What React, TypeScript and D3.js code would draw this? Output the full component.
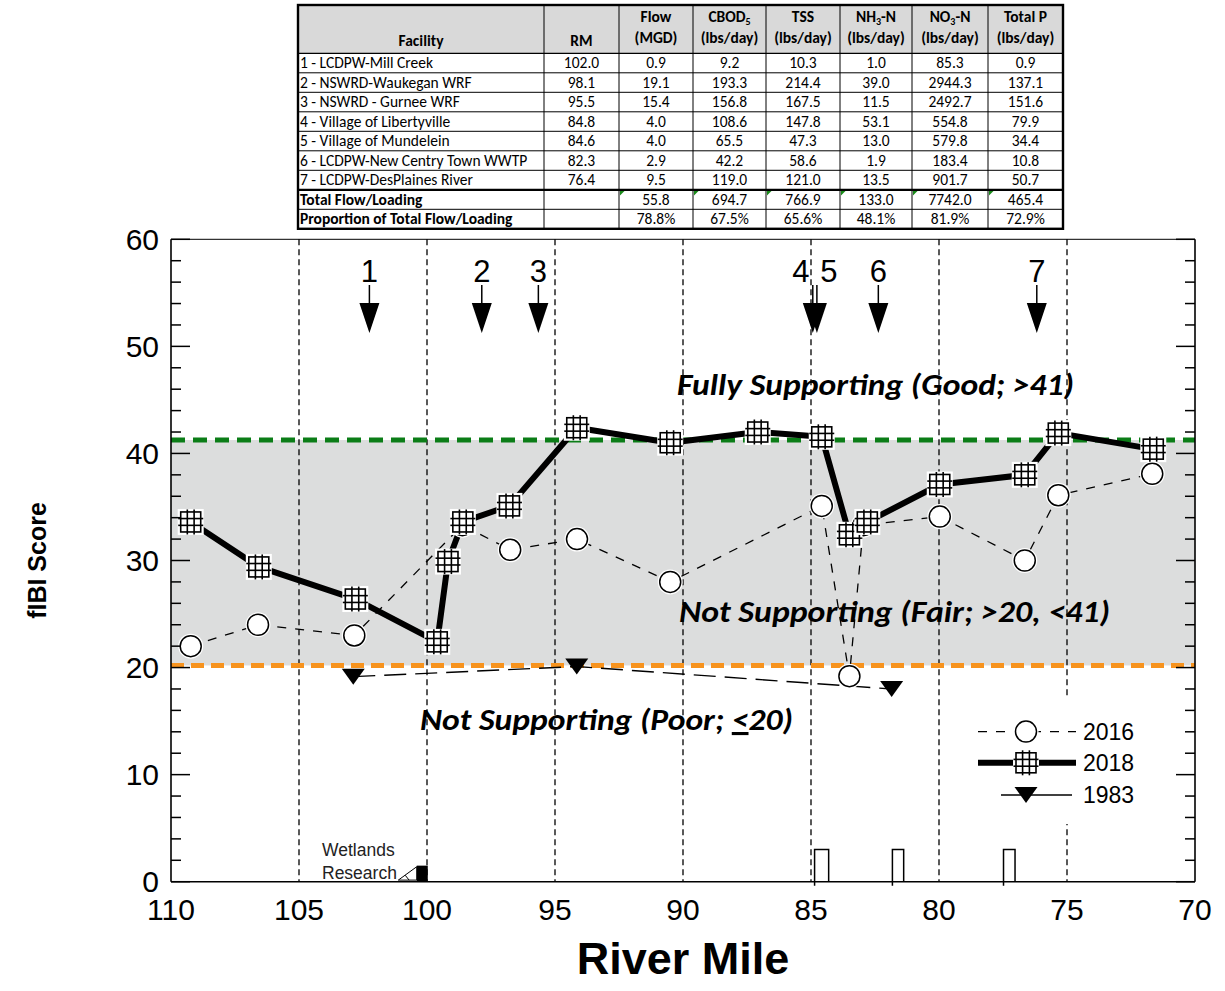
import React from 'react';
import * as d3 from 'd3';

// ---------- data ----------
const xTicks = [110, 105, 100, 95, 90, 85, 80, 75, 70];
const yMajorTicks = [0, 10, 20, 30, 40, 50, 60];
const yMinorTicks = [2, 4, 6, 8, 12, 14, 16, 18, 22, 24, 26, 28, 32, 34, 36, 38, 42, 44, 46, 48, 52, 54, 56, 58];
const dividerMiles = [105, 100, 95, 90, 85, 80, 75];

const rm2018 = [109.23, 106.57, 102.8, 99.6, 99.18, 98.6, 96.78, 94.15, 90.5, 87.08, 84.58, 83.5, 82.8, 79.97, 76.65, 75.34, 71.63];
const score2018 = [33.6, 29.4, 26.4, 22.4, 29.9, 33.6, 35.1, 42.4, 41.0, 42.0, 41.55, 32.4, 33.6, 37.1, 38.0, 41.9, 40.4];

const rm2016 = [109.23, 106.6, 102.84, 98.62, 96.75, 94.14, 90.5, 84.58, 83.5, 82.95, 79.97, 76.65, 75.34, 71.67];
const score2016 = [22.0, 24.0, 23.0, 33.3, 31.0, 32.0, 28.0, 35.1, 19.2, 33.3, 34.1, 30.0, 36.1, 38.1];

const rm1983 = [102.88, 94.15, 81.85];
const score1983 = [19.15, 20.1, 18.0];

const outfallLabels = ['1', '2', '3', '4', '5', '6', '7'];
const outfallRM = [102.25, 97.86, 95.65, 84.93, 84.77, 82.37, 76.18];
const outfallLabelDx = [0, 0, 0, -12, 12, 0, 0];

const fairLower = 20.2;
const goodUpper = 41.25;

const bottomBarStart = [84.86, 81.82, 77.48];
const bottomBarEnd = [84.31, 81.38, 77.03];
const bottomBarHeight = [3.0, 3.0, 3.0];

const wetlandBar = [100.4, 99.97, 1.5];

// table
const facilities = [
  '1 - LCDPW-Mill Creek',
  '2 - NSWRD-Waukegan WRF',
  '3 - NSWRD - Gurnee WRF',
  '4 - Village of Libertyville',
  '5 - Village of Mundelein',
  '6 - LCDPW-New Centry Town WWTP',
  '7 - LCDPW-DesPlaines River',
];
const rmCol = ['102.0', '98.1', '95.5', '84.8', '84.6', '82.3', '76.4'];
const flowCol = ['0.9', '19.1', '15.4', '4.0', '4.0', '2.9', '9.5'];
const cbodCol = ['9.2', '193.3', '156.8', '108.6', '65.5', '42.2', '119.0'];
const tssCol = ['10.3', '214.4', '167.5', '147.8', '47.3', '58.6', '121.0'];
const nh3Col = ['1.0', '39.0', '11.5', '53.1', '13.0', '1.9', '13.5'];
const no3Col = ['85.3', '2944.3', '2492.7', '554.8', '579.8', '183.4', '901.7'];
const tpCol = ['0.9', '137.1', '151.6', '79.9', '34.4', '10.8', '50.7'];
const totalsRow = ['55.8', '694.7', '766.9', '133.0', '7742.0', '465.4'];
const proportionRow = ['78.8%', '67.5%', '65.6%', '48.1%', '81.9%', '72.9%'];

// ---------- layout ----------
const W = 1225;
const H = 991;
const PL = 171, PR = 1195, PT = 239.3, PB = 881.7;
const ARIAL = '"Liberation Sans", Arial, sans-serif';
const CALIBRI = 'Carlito, Lato, "Open Sans", sans-serif';

const x = d3.scaleLinear().domain([110, 70]).range([PL, PR]);
const y = d3.scaleLinear().domain([0, 60]).range([PB, PT]);

const Square = ({ cx, cy }: { cx: number; cy: number }) => (
  <g transform={`translate(${cx},${cy})`}>
    <rect x={-13} y={-13} width={26} height={26} fill="#fff" />
    <rect x={-10} y={-10} width={20} height={20} fill="#fff" stroke="#000" strokeWidth={1.6} />
    <line x1={-3.4} x2={-3.4} y1={-12.5} y2={12.5} stroke="#000" strokeWidth={1.6} />
    <line x1={3.4} x2={3.4} y1={-12.5} y2={12.5} stroke="#000" strokeWidth={1.6} />
    <line y1={-3.4} y2={-3.4} x1={-12.5} x2={12.5} stroke="#000" strokeWidth={1.6} />
    <line y1={3.4} y2={3.4} x1={-12.5} x2={12.5} stroke="#000" strokeWidth={1.6} />
  </g>
);

const Circle = ({ cx, cy }: { cx: number; cy: number }) => (
  <g>
    <circle cx={cx} cy={cy} r={12.5} fill="#fff" />
    <circle cx={cx} cy={cy} r={10.5} fill="#fff" stroke="#000" strokeWidth={1.5} />
  </g>
);

const Tri = ({ cx, cy }: { cx: number; cy: number }) => (
  <path d={`M${cx - 11.5},${cy - 8}L${cx + 11.5},${cy - 8}L${cx},${cy + 8}Z`} fill="#000" />
);

function Table() {
  const colX = [298, 544, 619, 693, 766, 840, 912, 988, 1063];
  const top = 5;
  const headBottom = 53.3;
  const rowH = 19.5;
  const nRows = 9;
  const bottom = headBottom + rowH * nRows;
  const cols = [flowCol, cbodCol, tssCol, nh3Col, no3Col, tpCol];
  const mid = (i: number) => (colX[i] + colX[i + 1]) / 2;
  const fs = 15.5;
  const rows: React.ReactNode[] = [];
  for (let r = 0; r < 7; r++) {
    const by = headBottom + rowH * r + 15;
    rows.push(
      <text key={`f${r}`} x={colX[0] + 2} y={by} fontSize={fs}>{facilities[r]}</text>,
      <text key={`r${r}`} x={mid(1)} y={by} fontSize={fs} textAnchor="middle">{rmCol[r]}</text>,
    );
    cols.forEach((c, j) => {
      rows.push(
        <text key={`c${r}-${j}`} x={mid(j + 2)} y={by} fontSize={fs} textAnchor="middle">{c[r]}</text>,
      );
    });
  }
  const totY = headBottom + rowH * 7 + 15;
  const propY = headBottom + rowH * 8 + 15;
  const headers: [string, string | null, string][] = [
    ['Flow', null, '(MGD)'],
    ['CBOD', '5', '(lbs/day)'],
    ['TSS', null, '(lbs/day)'],
    ['NH', '3', '(lbs/day)'],
    ['NO', '3', '(lbs/day)'],
    ['Total P', null, '(lbs/day)'],
  ];
  const hLines: React.ReactNode[] = [];
  for (let r = 1; r < nRows; r++) {
    const yy = headBottom + rowH * r;
    hLines.push(
      <line key={`h${r}`} x1={colX[0]} x2={colX[8]} y1={yy} y2={yy} stroke="#000" strokeWidth={r === 7 ? 2.2 : 1} />,
    );
  }
  return (
    <g fontFamily={CALIBRI} fill="#000">
      <rect x={colX[0]} y={top} width={colX[8] - colX[0]} height={headBottom - top} fill="#d9d9d9" />
      <rect x={colX[0]} y={headBottom} width={colX[8] - colX[0]} height={bottom - headBottom} fill="#fff" />
      {hLines}
      <line x1={colX[0]} x2={colX[8]} y1={headBottom} y2={headBottom} stroke="#000" strokeWidth={1.2} />
      {colX.slice(1, 8).map((cx, i) => (
        <line key={`v${i}`} x1={cx} x2={cx} y1={top} y2={bottom} stroke="#000" strokeWidth={1} />
      ))}
      <rect x={colX[0]} y={top} width={colX[8] - colX[0]} height={bottom - top} fill="none" stroke="#000" strokeWidth={2.4} />
      <text x={mid(0)} y={46} fontSize={fs} fontWeight="bold" textAnchor="middle">Facility</text>
      <text x={mid(1)} y={46} fontSize={fs} fontWeight="bold" textAnchor="middle">RM</text>
      {headers.map((h, i) => (
        <g key={`hd${i}`}>
          <text x={mid(i + 2)} y={22} fontSize={fs} fontWeight="bold" textAnchor="middle">
            {h[0]}
            {h[1] ? <tspan fontSize={10} dy={2.5}>{h[1]}</tspan> : null}
            {h[1] && h[1] !== '5' ? <tspan dy={-2.5}>-N</tspan> : null}
          </text>
          <text x={mid(i + 2)} y={43} fontSize={fs} fontWeight="bold" textAnchor="middle">{h[2]}</text>
        </g>
      ))}
      {rows}
      <text x={colX[0] + 2} y={totY} fontSize={fs} fontWeight="bold">Total Flow/Loading</text>
      <text x={colX[0] + 2} y={propY} fontSize={fs} fontWeight="bold">Proportion of Total Flow/Loading</text>
      {totalsRow.map((v, j) => (
        <g key={`t${j}`}>
          <text x={mid(j + 2)} y={totY} fontSize={fs} textAnchor="middle">{v}</text>
          <path
            d={`M${colX[j + 2] + 1},${headBottom + rowH * 7 + 1.2}l4.5,0l-4.5,4.5Z`}
            fill="#1a8a1a"
          />
        </g>
      ))}
      {proportionRow.map((v, j) => (
        <text key={`p${j}`} x={mid(j + 2)} y={propY} fontSize={fs} textAnchor="middle">{v}</text>
      ))}
    </g>
  );
}

export default function App() {
  const line = d3.line<[number, number]>().x((d) => x(d[0])).y((d) => y(d[1]));
  const pts2018 = rm2018.map((r, i) => [r, score2018[i]] as [number, number]);
  const pts2016 = rm2016.map((r, i) => [r, score2016[i]] as [number, number]);
  const pts1983 = rm1983.map((r, i) => [r, score1983[i]] as [number, number]);

  const legendX0 = 978, legendX1 = 1076, legendMx = 1026, legendTx = 1083;
  const legY = [731.6, 762.8, 795];

  return (
    <svg
      width={W}
      height={H}
      viewBox={`0 0 ${W} ${H}`}
      style={{ position: 'absolute', left: 0, top: 0, display: 'block', background: '#fff' }}
    >
      <rect x={0} y={0} width={W} height={H} fill="#fff" />

      {/* gray fair band */}
      <rect x={PL} y={y(goodUpper)} width={PR - PL} height={y(fairLower) - y(goodUpper)} fill="#dcdddd" />

      {/* annotation text */}
      <g fontFamily={CALIBRI} fontWeight="bold" fontStyle="italic" fill="#000" fontSize={31}>
        <text x={677} y={395} textLength={397} lengthAdjust="spacingAndGlyphs">Fully Supporting (Good; &gt;41)</text>
        <text x={679} y={622} textLength={431} lengthAdjust="spacingAndGlyphs">Not Supporting (Fair; &gt;20, &lt;41)</text>
        <text x={420} y={730} textLength={373} lengthAdjust="spacingAndGlyphs">
          Not Supporting (Poor; <tspan textDecoration="underline">&lt;</tspan>20)
        </text>
      </g>

      {/* vertical dividers */}
      {dividerMiles.map((m) => (
        <line key={m} x1={x(m)} x2={x(m)} y1={PT} y2={PB} stroke="#000" strokeWidth={1.3} strokeDasharray="6,4" />
      ))}

      {/* threshold lines */}
      <line x1={PL} x2={PR} y1={y(goodUpper)} y2={y(goodUpper)} stroke="#0b7d17" strokeWidth={5} strokeDasharray="14,8" />
      <line x1={PL} x2={PR} y1={y(fairLower)} y2={y(fairLower)} stroke="#f7931e" strokeWidth={5} strokeDasharray="13,7" />

      {/* bottom open bars */}
      {bottomBarStart.map((s, i) => {
        const x0 = x(s), x1 = x(bottomBarEnd[i]), yt = y(bottomBarHeight[i]);
        return (
          <path
            key={`bb${i}`}
            d={`M${x0},${PB + 4}L${x0},${yt}L${x1},${yt}L${x1},${PB}`}
            fill="none"
            stroke="#000"
            strokeWidth={1.5}
          />
        );
      })}

      {/* wetlands annotation */}
      <rect
        x={x(wetlandBar[0])}
        y={y(wetlandBar[2])}
        width={x(wetlandBar[1]) - x(wetlandBar[0])}
        height={PB - y(wetlandBar[2])}
        fill="#000"
      />
      <path
        d={`M${x(101.12)},${y(0.15)}L${x(100.4)},${y(1.4)}L${x(100.4)},${y(0.15)}Z M${x(100.85)},${y(0.6)}L${x(100.7)},${y(0.15)}`}
        fill="none"
        stroke="#000"
        strokeWidth={1}
      />
      <g fontFamily={ARIAL} fontSize={17.5} fill="#222">
        <text x={322} y={856}>Wetlands</text>
        <text x={322} y={879}>Research</text>
      </g>

      {/* series lines */}
      <path d={line(pts1983) || ''} fill="none" stroke="#000" strokeWidth={1.4} strokeDasharray="22,9" />
      <path d={line(pts2016) || ''} fill="none" stroke="#000" strokeWidth={1.3} strokeDasharray="9,9" />
      <path d={line(pts2018) || ''} fill="none" stroke="#000" strokeWidth={6} strokeLinejoin="round" />

      {/* markers */}
      {pts1983.map((p, i) => <Tri key={`t${i}`} cx={x(p[0])} cy={y(p[1])} />)}
      {pts2016.map((p, i) => <Circle key={`c${i}`} cx={x(p[0])} cy={y(p[1])} />)}
      {pts2018.map((p, i) => <Square key={`s${i}`} cx={x(p[0])} cy={y(p[1])} />)}

      {/* outfall arrows */}
      <g fontFamily={ARIAL} fontSize={31} fill="#000">
        {outfallRM.map((r, i) => {
          const ax = x(r);
          return (
            <g key={`a${i}`}>
              <text x={ax + outfallLabelDx[i]} y={282} textAnchor="middle">{outfallLabels[i]}</text>
              <line x1={ax} x2={ax} y1={285} y2={305} stroke="#000" strokeWidth={1.5} />
              <path d={`M${ax - 10},${303}L${ax + 10},${303}L${ax},${333}Z`} fill="#000" />
            </g>
          );
        })}
      </g>

      {/* legend */}
      <rect x={962} y={698} width={180} height={126} fill="#fff" />
      <line x1={legendX0} x2={legendX1} y1={legY[0]} y2={legY[0]} stroke="#000" strokeWidth={1.3} strokeDasharray="9,9" />
      <Circle cx={legendMx} cy={legY[0]} />
      <line x1={legendX0} x2={legendX1} y1={legY[1]} y2={legY[1]} stroke="#000" strokeWidth={6} />
      <Square cx={legendMx} cy={legY[1]} />
      <line x1={1001} x2={1072} y1={legY[2]} y2={legY[2]} stroke="#000" strokeWidth={1.4} />
      <Tri cx={legendMx} cy={legY[2]} />
      <g fontFamily={ARIAL} fontSize={23} fill="#000">
        <text x={legendTx} y={legY[0] + 8}>2016</text>
        <text x={legendTx} y={legY[1] + 8}>2018</text>
        <text x={legendTx} y={legY[2] + 8}>1983</text>
      </g>

      {/* axes frame */}
      <line x1={PL} x2={PL} y1={PT} y2={PB} stroke="#000" strokeWidth={1.6} />
      <line x1={PR} x2={PR} y1={PT} y2={PB} stroke="#000" strokeWidth={1.6} />
      <line x1={PL} x2={PR} y1={PT} y2={PT} stroke="#000" strokeWidth={1} />
      <line x1={PL} x2={PR} y1={PB} y2={PB} stroke="#000" strokeWidth={1.6} />
      {yMajorTicks.map((t) => (
        <g key={`ym${t}`}>
          <line x1={PL} x2={PL + 19} y1={y(t)} y2={y(t)} stroke="#000" strokeWidth={1.5} />
          <line x1={PR} x2={PR - 19} y1={y(t)} y2={y(t)} stroke="#000" strokeWidth={1.5} />
        </g>
      ))}
      {yMinorTicks.map((t) => (
        <g key={`yn${t}`}>
          <line x1={PL} x2={PL + 10} y1={y(t)} y2={y(t)} stroke="#000" strokeWidth={1.5} />
          <line x1={PR} x2={PR - 10} y1={y(t)} y2={y(t)} stroke="#000" strokeWidth={1.5} />
        </g>
      ))}
      <g fontFamily={ARIAL} fontSize={30} fill="#000">
        {yMajorTicks.map((t) => (
          <text key={`yl${t}`} x={PL - 12} y={y(t)} dy="0.34em" textAnchor="end">{t}</text>
        ))}
        {xTicks.map((t) => (
          <text key={`xl${t}`} x={x(t)} y={920} textAnchor="middle">{t}</text>
        ))}
      </g>
      <text x={683} y={974} fontFamily={ARIAL} fontSize={45} fontWeight="bold" textAnchor="middle">River Mile</text>
      <text
        transform={`translate(46,${(PT + PB) / 2}) rotate(-90)`}
        fontFamily={ARIAL}
        fontSize={25}
        fontWeight="bold"
        textAnchor="middle"
      >
        fIBI Score
      </text>

      <Table />
    </svg>
  );
}
